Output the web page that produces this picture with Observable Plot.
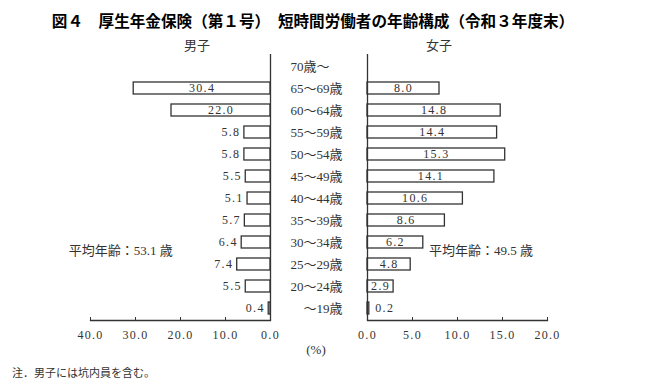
<!DOCTYPE html>
<html>
<head>
<meta charset="utf-8">
<script src="https://cdn.jsdelivr.net/npm/d3@7"></script>
<script src="https://cdn.jsdelivr.net/npm/@observablehq/plot@0.6"></script>
<style>
  body { margin: 0; background: #fff; }
  #wrap { position: relative; width: 652px; height: 388px; overflow: hidden; color: #333;
          font-family: "Liberation Serif", "Noto Sans CJK JP", serif; }
  .abs { position: absolute; white-space: nowrap; }
  #title { left: 0; width: 626px; top: 10px; text-align: center; color: #000;
           font: bold 15.6px "Noto Sans CJK JP", sans-serif; line-height: 20px; }
  .head { top: 36px; font: 13px "Noto Sans CJK JP", sans-serif; line-height: 18px; width: 60px; text-align: center; }
  #unit { left: 286px; width: 60px; text-align: center; top: 341px; font-size: 13px; line-height: 18px; }
  #note { left: 12px; top: 363px; font: 11px "Noto Sans CJK JP", sans-serif; line-height: 18px; }
  svg.plot { position: absolute; left: 0; top: 30px; background: none !important; }
  svg.plot g[aria-label="x-axis tick label"] text,
  svg.plot text[aria-label="value"] { letter-spacing: 1.3px; }
</style>
</head>
<body>
<div id="wrap"></div>
<script>
const title = "図４　厚生年金保険（第１号）　短時間労働者の年齢構成（令和３年度末）";
const leftHeader = "男子";
const rightHeader = "女子";
const ages = ["70歳～","65～69歳","60～64歳","55～59歳","50～54歳","45～49歳","40～44歳","35～39歳","30～34歳","25～29歳","20～24歳","　～19歳"];
const male   = [null, 30.4, 22.0, 5.8, 5.8, 5.5, 5.1, 5.7, 6.4, 7.4, 5.5, 0.4];
const female = [null,  8.0, 14.8, 14.4, 15.3, 14.1, 10.6, 8.6, 6.2, 4.8, 2.9, 0.2];
const maleTicks = [40, 30, 20, 10, 0];
const femaleTicks = [0, 5, 10, 15, 20];
const maleAvg = "53.1";
const femaleAvg = "49.5";
const unitLabel = "(%)";
const note = "注．男子には坑内員を含む。";

const rows = ages.map((a, i) => ({age: a, male: male[i], female: female[i]}));
const fmt = d => d.toFixed(1);
const ink = "#333";
const serif = "Liberation Serif, Noto Sans CJK JP, serif";
const numFont = {fontFamily: serif, fontSize: 12};

const wrap = document.getElementById("wrap");
function addDiv(id, cls, text, style) {
  const d = document.createElement("div");
  if (id) d.id = id;
  d.className = "abs " + (cls || "");
  d.textContent = text;
  Object.assign(d.style, style || {});
  wrap.appendChild(d);
}
addDiv("title", "", title);
addDiv(null, "head", leftHeader, {left: "167px"});
addDiv(null, "head", rightHeader, {left: "409px"});

const common = {
  width: 652, height: 320, marginTop: 24, marginBottom: 30,
  style: {background: "none", color: ink, overflow: "visible"}
};
const yScale = {domain: ages, paddingInner: 0.44, paddingOuter: 0.22};

const leftPlot = Plot.plot({
  ...common,
  marginLeft: 90, marginRight: 382,
  x: {domain: [0, 40], reverse: true},
  y: yScale,
  marks: [
    Plot.barX(rows.filter(d => d.male != null), {x: "male", y: "age", fill: "white", stroke: ink, strokeWidth: 1.3}),
    Plot.ruleX([0], {stroke: ink, strokeWidth: 1.3}),
    Plot.frame({anchor: "bottom", stroke: ink, strokeWidth: 1.3}),
    Plot.axisX({ticks: maleTicks, tickFormat: fmt, tickSize: -3, tickPadding: 13, stroke: ink, fill: ink,
                label: null, ...numFont}),
    Plot.axisY({anchor: "right", tickSize: 0, tickPadding: 20, textAnchor: "start", label: null,
                fontSize: 13, fill: ink, fontFamily: serif}),
    Plot.text(rows.filter(d => d.male != null && d.male > 10), {x: d => d.male / 2, y: "age", text: d => fmt(d.male),
                fill: ink, ariaLabel: () => "value", ...numFont}),
    Plot.text(rows.filter(d => d.male != null && d.male <= 10), {x: "male", y: "age", text: d => fmt(d.male),
                textAnchor: "end", dx: -4, fill: ink, ariaLabel: () => "value", ...numFont}),
    Plot.text([`平均年齢：${maleAvg} 歳`], {x: () => 33.3, y: () => "30～34歳", text: d => d, dy: 8,
                fill: ink, fontSize: 13, fontFamily: serif})
  ]
});

const rightPlot = Plot.plot({
  ...common,
  marginLeft: 367, marginRight: 105,
  x: {domain: [0, 20]},
  y: yScale,
  marks: [
    Plot.barX(rows.filter(d => d.female != null), {x: "female", y: "age", fill: "white", stroke: ink, strokeWidth: 1.3}),
    Plot.ruleX([0], {stroke: ink, strokeWidth: 1.3}),
    Plot.frame({anchor: "bottom", stroke: ink, strokeWidth: 1.3}),
    Plot.axisX({ticks: femaleTicks, tickFormat: fmt, tickSize: -3, tickPadding: 13, stroke: ink, fill: ink,
                label: null, ...numFont}),
    Plot.axisY({tickSize: 0, ticks: [], label: null}),
    Plot.text(rows.filter(d => d.female != null && d.female >= 1), {x: d => d.female / 2, y: "age", text: d => fmt(d.female),
                fill: ink, ariaLabel: () => "value", ...numFont}),
    Plot.text(rows.filter(d => d.female != null && d.female < 1), {x: "female", y: "age", text: d => fmt(d.female),
                textAnchor: "start", dx: 6, fill: ink, ariaLabel: () => "value", ...numFont}),
    Plot.text([`平均年齢：${femaleAvg} 歳`], {x: () => 12.6, y: () => "30～34歳", text: d => d, dy: 8,
                fill: ink, fontSize: 13, fontFamily: serif})
  ]
});

leftPlot.classList.add("plot");
rightPlot.classList.add("plot");
wrap.appendChild(leftPlot);
wrap.appendChild(rightPlot);

addDiv("unit", "", unitLabel);
addDiv("note", "", note);
</script>
</body>
</html>
